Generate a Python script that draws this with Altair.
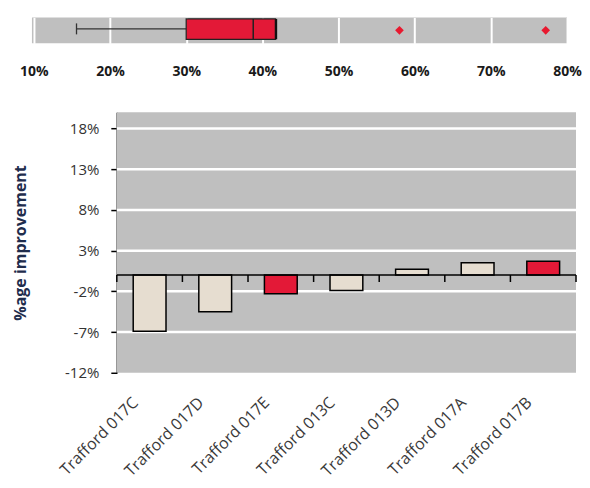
import altair as alt
import pandas as pd

# ---- data ----
categories = ["Trafford 017C", "Trafford 017D", "Trafford 017E", "Trafford 013C",
              "Trafford 013D", "Trafford 017A", "Trafford 017B"]
improvement = [-6.9, -4.5, -2.3, -1.9, 0.7, 1.5, 1.7]
highlighted = ["no", "no", "yes", "no", "no", "no", "yes"]

box_low = 15.6
box_q1 = 30.0
box_median = 38.8
box_q3 = 41.7
box_high = 41.8
outliers = [58.0, 77.2]

strip_ticks = [10, 20, 30, 40, 50, 60, 70, 80]
y_ticks = [-12, -7, -2, 3, 8, 13, 18]
y_grid = [-7, -2, 3, 8, 13, 18]

FONT = "Open Sans"
RED = "#E31937"
BEIGE = "#E6DDD0"
GRAY = "#BFBFBF"

# ---- top strip (box plot) ----
box_df = pd.DataFrame({"low": [box_low], "q1": [box_q1], "median": [box_median],
                       "q3": [box_q3], "high": [box_high]})
out_df = pd.DataFrame({"v": outliers})

xs = alt.Scale(domain=[9.75, 80], nice=False, zero=False)
xaxis = alt.Axis(values=strip_ticks, labelExpr="datum.value + '%'", domain=False,
                 ticks=False, grid=True, gridColor="white", gridWidth=2,
                 labelPadding=21, labelFontSize=14, labelFontWeight="bold",
                 labelColor="#1a1a1a", title=None, labelFont=FONT, labelFlush=False)

base = alt.Chart(box_df)
whisker = base.mark_rule(color="#333333", strokeWidth=1.3).encode(
    x=alt.X("low:Q", scale=xs, axis=xaxis), x2="q1:Q", y=alt.value(11.5))
lowcap = base.mark_rule(color="#333333", strokeWidth=1.3).encode(
    x="low:Q", y=alt.value(6), y2=alt.value(17))
box = base.mark_bar(color=RED, stroke="#222222", strokeWidth=1.2).encode(
    x="q1:Q", x2="q3:Q", y=alt.value(1.5), y2=alt.value(22))
med = base.mark_rule(color="#222222", strokeWidth=1.5).encode(
    x="median:Q", y=alt.value(1.5), y2=alt.value(22))
highcap = base.mark_rule(color="#111111", strokeWidth=2.2).encode(
    x="high:Q", y=alt.value(1.5), y2=alt.value(22))
outl = alt.Chart(out_df).mark_point(shape="diamond", filled=True, color="#E8192F",
                                    size=75, opacity=1).encode(
    x="v:Q", y=alt.value(13))

top = alt.layer(whisker, lowcap, box, med, highcap, outl).properties(
    width=536, height=26, view=alt.ViewBackground(fill=GRAY, strokeWidth=0))

# ---- bottom bar chart ----
# plot area starts PX0 px right of the strip's left edge
PX0, PX1, PH = 85, 545, 261

df = pd.DataFrame({"area": categories, "improvement": improvement, "hl": highlighted})

xb_axis = alt.Axis(title=None, domain=False, ticks=False, labelAngle=-45,
                   labelAlign="right", labelBaseline="middle", labelOffset=-14,
                   labelPadding=27, labelFontSize=16, labelColor="#3a3a3a",
                   labelFont=FONT)
xscale = alt.Scale(range=[PX0, PX1], paddingInner=0, paddingOuter=0)
xb = alt.X("area:N", sort=None, scale=xscale, axis=xb_axis)

yb = alt.Y("improvement:Q", scale=alt.Scale(domain=[-12, 20], nice=False),
           axis=alt.Axis(values=y_ticks, labelExpr="datum.value + '%'", offset=-PX0,
                         title="%age improvement", titleFontSize=16,
                         titleFontWeight="bold", titleColor="#1F2D4D",
                         titlePadding=36, titleFont=FONT,
                         domainColor="black", domainWidth=1.5,
                         tickColor="black", tickWidth=1.5, tickSize=6,
                         labelPadding=12, labelFontSize=15, labelColor="#333333",
                         labelFont=FONT, grid=False))

one = pd.DataFrame({"z": [0]})
bg = alt.Chart(one).mark_rect(color=GRAY).encode(
    x=alt.value(PX0), x2=alt.value(PX1), y=alt.value(0), y2=alt.value(PH))

grid = alt.Chart(pd.DataFrame({"g": y_grid})).mark_rule(color="white", strokeWidth=2.5).encode(
    y="g:Q", x=alt.value(PX0), x2=alt.value(PX1))

bars = alt.Chart(df).mark_bar(width=alt.RelativeBandSize(0.5), stroke="black",
                              strokeWidth=1.5).encode(
    x=xb, y=yb,
    color=alt.Color("hl:N", scale=alt.Scale(domain=["no", "yes"], range=[BEIGE, RED]),
                    legend=None))

zero = alt.Chart(one).mark_rule(color="black", strokeWidth=1.5).encode(
    y="z:Q", x=alt.value(PX0), x2=alt.value(PX1))

ticks = alt.Chart(df).mark_rule(color="black", strokeWidth=1.5).encode(
    x=alt.X("area:N", sort=None, bandPosition=0),
    y=alt.datum(0), y2=alt.datum(-0.85))
end_tick = alt.Chart(df).transform_filter(
    alt.datum.area == categories[-1]).mark_rule(color="black", strokeWidth=1.5).encode(
    x=alt.X("area:N", sort=None, bandPosition=1),
    y=alt.datum(0), y2=alt.datum(-0.85))

bottom = alt.layer(bg, grid, bars, zero, ticks, end_tick).properties(
    width=PX1, height=PH, view=alt.ViewBackground(strokeWidth=0))

chart = alt.vconcat(top, bottom, spacing=34).properties(
    padding={"left": 4, "top": 9, "right": 0, "bottom": 0}
)

chart.save("out.html", embed_options={"renderer": "svg", "actions": False})
